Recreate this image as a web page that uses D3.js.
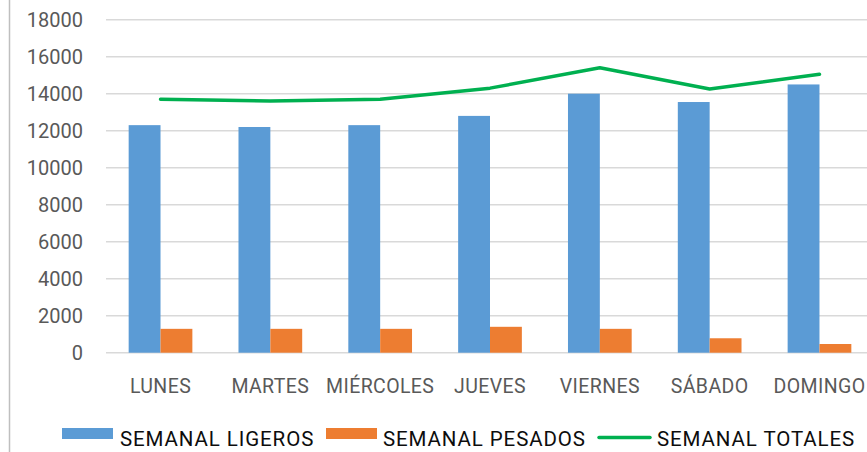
<!DOCTYPE html>
<html>
<head>
<meta charset="utf-8">
<script src="https://cdn.jsdelivr.net/npm/d3@7"></script>
<style>
  body { margin: 0; background: #fff; }
  text { font-family: Roboto, "Liberation Sans", sans-serif; }
</style>
</head>
<body>
<div id="chart"></div>
<script>
// datos
const dias = ['LUNES', 'MARTES', 'MIÉRCOLES', 'JUEVES', 'VIERNES', 'SÁBADO', 'DOMINGO']
const ligeros = [12300, 12200, 12300, 12800, 14000, 13550, 14500]
const pesados = [1290, 1290, 1290, 1400, 1290, 780, 470]
const totales = [13700, 13600, 13700, 14300, 15400, 14250, 15050]
const yTicks = [0, 2000, 4000, 6000, 8000, 10000, 12000, 14000, 16000, 18000]
const nombres = ['SEMANAL LIGEROS', 'SEMANAL PESADOS', 'SEMANAL TOTALES']

const width = 867, height = 452
const colores = ['#5b9bd5', '#ed7d31', '#00b050']

const svg = d3.select('#chart').append('svg')
    .attr('width', width)
    .attr('height', height)

svg.append('rect').attr('width', width).attr('height', height).attr('fill', '#fff')

// borde izquierdo del area del gráfico
svg.append('line')
    .attr('x1', 9.5).attr('x2', 9.5)
    .attr('y1', 0).attr('y2', height)
    .style('stroke', '#bfbfbf')
    .style('stroke-width', 1.5)

const x = d3.scaleBand()
    .domain(dias)
    .range([105.6, 874.4])

const y = d3.scaleLinear()
    .domain([0, 18000])
    .range([352.7, 19.7])

// rejilla
svg.append('g')
    .selectAll('line')
    .data(yTicks)
    .join('line')
    .attr('x1', 106).attr('x2', width)
    .attr('y1', d => y(d)).attr('y2', d => y(d))
    .style('stroke', '#d9d9d9')
    .style('stroke-width', 1.6)

// etiquetas eje y
const yAxis = d3.axisLeft(y).tickValues(yTicks).tickSize(0).tickPadding(0).tickFormat(d3.format('d'))
const gy = svg.append('g').attr('transform', 'translate(83,0)').call(yAxis)
gy.select('.domain').remove()
gy.selectAll('text')
    .style('font-size', '20px')
    .style('font-family', 'Roboto, sans-serif')
    .attr('fill', '#595959')
    .attr('dy', '0.36em')

// etiquetas eje x
const xAxis = d3.axisBottom(x).tickSize(0).tickPadding(0)
const gx = svg.append('g').attr('transform', 'translate(0,392.7)').call(xAxis)
gx.select('.domain').remove()
gx.selectAll('text')
    .style('font-size', '19.5px')
    .style('letter-spacing', '0.4px')
    .style('font-family', 'Roboto, sans-serif')
    .attr('fill', '#595959')
    .attr('dy', 0)
    .attr('y', 0)

// barras
const barW = x.bandwidth() * 0.29
const offset = (x.bandwidth() - 2 * barW) / 2

svg.append('g')
    .selectAll('rect')
    .data(ligeros)
    .join('rect')
    .attr('x', (d, i) => x(dias[i]) + offset)
    .attr('y', d => y(d))
    .attr('width', barW)
    .attr('height', d => y(0) - y(d))
    .attr('fill', colores[0])

svg.append('g')
    .selectAll('rect')
    .data(pesados)
    .join('rect')
    .attr('x', (d, i) => x(dias[i]) + offset + barW)
    .attr('y', d => y(d))
    .attr('width', barW)
    .attr('height', d => y(0) - y(d))
    .attr('fill', colores[1])

// linea totales
const linea = d3.line()
    .x((d, i) => x(dias[i]) + x.bandwidth() / 2)
    .y(d => y(d))

svg.append('path')
    .datum(totales)
    .attr('d', linea)
    .style('fill', 'none')
    .style('stroke', colores[2])
    .style('stroke-width', 3.5)
    .style('stroke-linecap', 'round')
    .style('stroke-linejoin', 'round')

// leyenda
const leyenda = [
    { x: 62, texto: 120 },
    { x: 326, texto: 383 },
    { x: 599, texto: 657 }
]
const gl = svg.append('g')
leyenda.forEach((l, i) => {
    if (i < 2) {
        gl.append('rect')
            .attr('x', l.x).attr('y', 428)
            .attr('width', 51).attr('height', 11)
            .attr('fill', colores[i])
    } else {
        gl.append('line')
            .attr('x1', l.x).attr('x2', l.x + 51)
            .attr('y1', 437.5).attr('y2', 437.5)
            .style('stroke', colores[i])
            .style('stroke-width', 3.5)
            .style('stroke-linecap', 'round')
    }
    gl.append('text')
        .attr('x', l.texto)
        .attr('y', 445.7)
        .style('font-size', '20.5px')
        .style('letter-spacing', '0.9px')
        .attr('fill', '#0d0d0d')
        .text(nombres[i])
})
</script>
</body>
</html>
